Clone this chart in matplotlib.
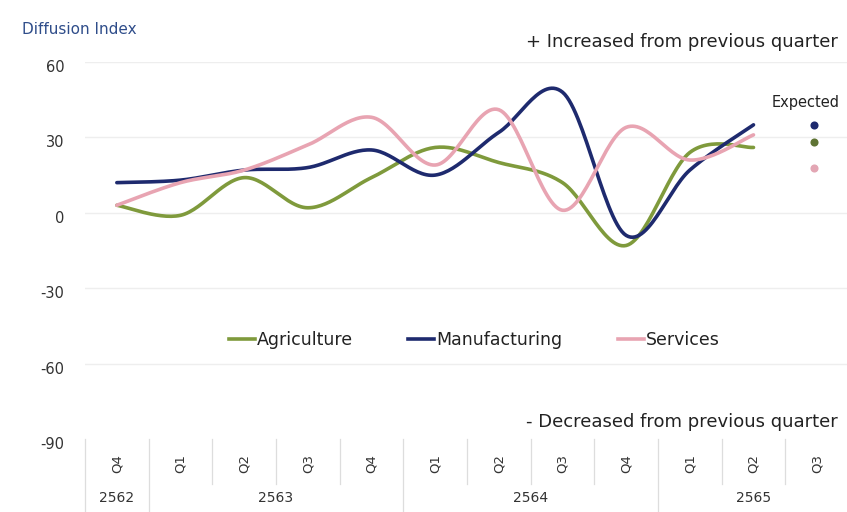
import numpy as np
import matplotlib
matplotlib.use("Agg")
import matplotlib.pyplot as plt
import matplotlib.transforms as mtransforms
from matplotlib.lines import Line2D

plt.rcParams['font.family'] = ['DejaVu Sans']

quarters = ["Q4", "Q1", "Q2", "Q3", "Q4", "Q1", "Q2", "Q3", "Q4", "Q1", "Q2", "Q3"]
years = ["2562", "2563", "2564", "2565"]
year_spans = [(0, 0), (1, 4), (5, 8), (9, 11)]

agriculture = [3, -1, 14, 2, 14, 26, 20, 12, -13, 24, 26]
manufacturing = [12, 13, 17, 18, 25, 15, 32, 48, -9, 17, 35]
services = [3, 12, 17, 27, 38, 19, 41, 1, 34, 21, 31]
expected = {"Manufacturing": 35, "Agriculture": 28, "Services": 18}

colors = {"Agriculture": "#7f9a3c", "Manufacturing": "#1e2a6e", "Services": "#e8a4b2"}
dot_colors = {"Agriculture": "#5f7434", "Manufacturing": "#1e2a6e", "Services": "#e3a6b4"}


def smooth(y, n=30):
    # Excel-like smoothed line (Catmull-Rom Bezier)
    y = np.asarray(y, float)
    x = np.arange(len(y), dtype=float)
    P = np.column_stack([x, y])
    out = []
    for i in range(len(P) - 1):
        p0 = P[i - 1] if i > 0 else P[i]
        p1 = P[i]
        p2 = P[i + 1]
        p3 = P[i + 2] if i + 2 < len(P) else P[i + 1]
        c1 = p1 + (p2 - p0) / 6
        c2 = p2 - (p3 - p1) / 6
        t = np.linspace(0, 1, n)[:, None]
        seg = (1 - t) ** 3 * p1 + 3 * (1 - t) ** 2 * t * c1 + 3 * (1 - t) * t ** 2 * c2 + t ** 3 * p2
        out.append(seg if i == 0 else seg[1:])
    s = np.vstack(out)
    return s[:, 0], s[:, 1]


fig = plt.figure(figsize=(8.47, 5.12), dpi=100)
ax = fig.add_axes([85 / 847, 1 - 439 / 512, 764 / 847, 377 / 512])
ax.set_xlim(-0.5, 11.5)
ax.set_ylim(-90, 60)

for v in [60, 30, 0, -30, -60]:
    ax.axhline(v, color="#eeeeee", lw=1, zorder=0)

for name, data in [("Agriculture", agriculture), ("Manufacturing", manufacturing), ("Services", services)]:
    xs, ys = smooth(data)
    ax.plot(xs, ys, color=colors[name], lw=2.6, solid_capstyle="round", label=name)

# Expected dots
for name in ["Manufacturing", "Agriculture", "Services"]:
    ax.scatter([10.95], [expected[name]], s=34, color=dot_colors[name], zorder=5, linewidths=0)

ax.set_yticks([60, 30, 0, -30, -60, -90])
ax.set_yticklabels(["60", "30", "0", "-30", "-60", "-90"])
ax.tick_params(axis="y", length=0, pad=15, labelsize=10.5, labelcolor="#333333")
offset = mtransforms.ScaledTranslation(0, -4 / 100, fig.dpi_scale_trans)
for lbl in ax.get_yticklabels():
    lbl.set_transform(lbl.get_transform() + offset)
ax.set_xticks([])
for s in ax.spines.values():
    s.set_visible(False)

trans = ax.get_xaxis_transform()
# Quarter labels
for i, q in enumerate(quarters):
    ax.text(i, -0.066, q, transform=trans, rotation=90, ha="center", va="center",
            fontsize=9.5, color="#333333")
# separators between quarters
for i in range(len(quarters) + 1):
    b = i - 0.5
    is_year = b in [-0.5, 0.5, 4.5, 8.5]
    ax.plot([b, b], [0, -0.12 if not is_year else -0.2], transform=trans,
            color="#dddddd", lw=0.9, clip_on=False)
for y, (a, b) in zip(years, year_spans):
    ax.text((a + b) / 2, -0.156, y, transform=trans, ha="center", va="center",
            fontsize=10, color="#333333")

fig.text(22 / 847, 1 - 30 / 512, "Diffusion Index", fontsize=11, color="#2f4d8a",
         ha="left", va="center")
fig.text(838 / 847, 1 - 42 / 512, "+ Increased from previous quarter", fontsize=13,
         color="#222222", ha="right", va="center")
fig.text(838 / 847, 1 - 422 / 512, "- Decreased from previous quarter", fontsize=13,
         color="#222222", ha="right", va="center")
fig.text(840 / 847, 1 - 103 / 512, "Expected", fontsize=10.5, color="#222222",
         ha="right", va="center")

handles = [Line2D([], [], color=colors[n], lw=2.6) for n in ["Agriculture", "Manufacturing", "Services"]]
fig.legend(handles, ["Agriculture", "Manufacturing", "Services"], loc="center",
           bbox_to_anchor=(474 / 847, 1 - 340 / 512), ncol=3, frameon=False,
           fontsize=12.5, handlelength=1.5, handletextpad=0.1, columnspacing=3.2,
           labelcolor="#222222")

fig.savefig("out.png", dpi=100)
